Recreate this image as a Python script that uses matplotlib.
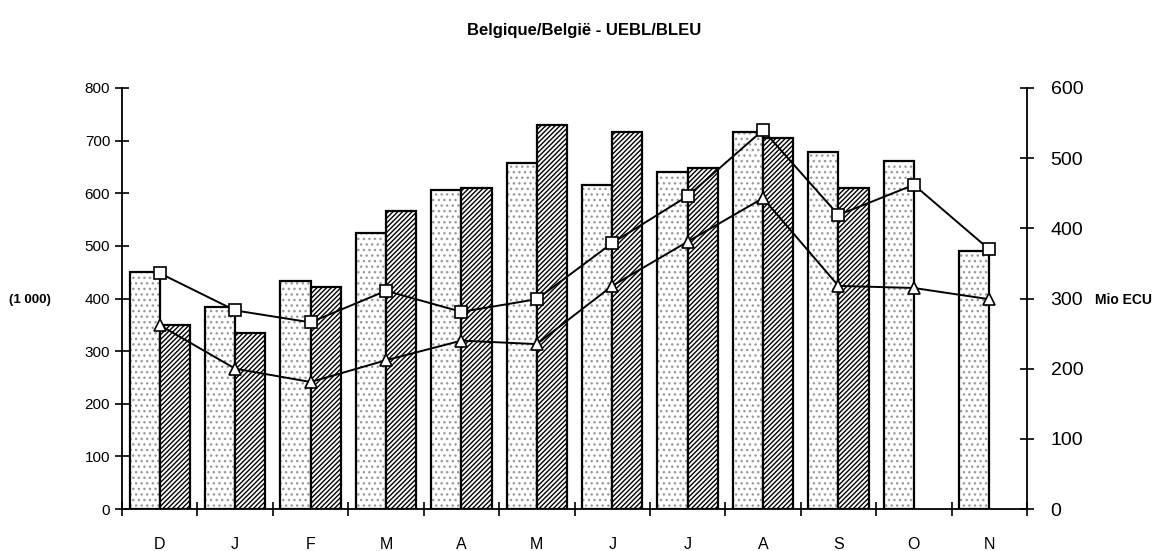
import matplotlib.pyplot as plt
import numpy as np

plt.rcParams['font.family'] = ['Liberation Sans', 'DejaVu Sans']
plt.rcParams['hatch.linewidth'] = 1.0

months = ['D', 'J', 'F', 'M', 'A', 'M', 'J', 'J', 'A', 'S', 'O', 'N']

# left axis, thousands
light_bars = [450, 383, 433, 525, 607, 658, 615, 640, 716, 678, 662, 490]
dark_bars = [350, 335, 422, 567, 610, 730, 716, 648, 705, 610, np.nan, np.nan]

# right axis, Mio ECU
squares = [336, 283, 266, 311, 281, 299, 379, 446, 540, 419, 462, 370]
triangles = [262, 200, 181, 212, 240, 235, 318, 381, 443, 318, 315, 299]

x = np.arange(len(months))

fig = plt.figure(figsize=(11.69, 5.51), dpi=100)
ax = fig.add_axes([0.1044, 0.0762, 0.7741, 0.7641])

# stippled bars: grey dots first, black outline on top
ax.bar(x + 0.3, light_bars, width=0.4, facecolor='white', edgecolor='#9a9a9a',
       hatch='...', linewidth=0, zorder=2)
ax.bar(x + 0.3, light_bars, width=0.4, facecolor='none', edgecolor='black',
       linewidth=1.6, zorder=3)
ax.bar(x + 0.7, dark_bars, width=0.4, facecolor='white', edgecolor='black',
       hatch='///////', linewidth=1.6, zorder=3)

ax.set_xlim(0, 12)
ax.set_ylim(0, 800)
ax.set_yticks(range(0, 801, 100))
ax.set_xticks(range(0, 13))
ax.set_xticklabels([])
ax.set_xticks(x + 0.5, minor=True)
ax.set_xticklabels(months, minor=True, fontsize=11.5)
ax.tick_params(axis='x', which='minor', length=0, pad=20)
ax.tick_params(axis='x', which='major', direction='inout', length=10, width=1.2)
ax.tick_params(axis='y', direction='inout', length=10, width=1.2, labelsize=11)

for s in ['top', 'right']:
    ax.spines[s].set_visible(False)
ax.spines['left'].set_linewidth(1.3)
ax.spines['bottom'].set_linewidth(1.3)

ax2 = ax.twinx()
ax2.set_ylim(0, 600)
ax2.set_yticks(range(0, 601, 100))
ax2.tick_params(axis='y', direction='inout', length=10, width=1.2, labelsize=14, pad=12)
for s in ['top', 'left', 'bottom']:
    ax2.spines[s].set_visible(False)
ax2.spines['right'].set_linewidth(1.3)

ax2.plot(x + 0.5, squares, color='black', lw=1.4, marker='s', markersize=9,
         markerfacecolor='white', markeredgecolor='black', markeredgewidth=1.2, zorder=5)
ax2.plot(x + 0.5, triangles, color='black', lw=1.4, marker='^', markersize=9,
         markerfacecolor='white', markeredgecolor='black', markeredgewidth=1.2, zorder=5)

fig.text(0.5, 0.945, 'Belgique/België - UEBL/BLEU', ha='center', va='center',
         fontsize=12, fontweight='bold')
fig.text(0.008, 0.455, '(1 000)', ha='left', va='center', fontsize=9.5, fontweight='bold')
fig.text(0.937, 0.455, 'Mio ECU', ha='left', va='center', fontsize=10, fontweight='bold')

fig.savefig('out.png', dpi=100)
